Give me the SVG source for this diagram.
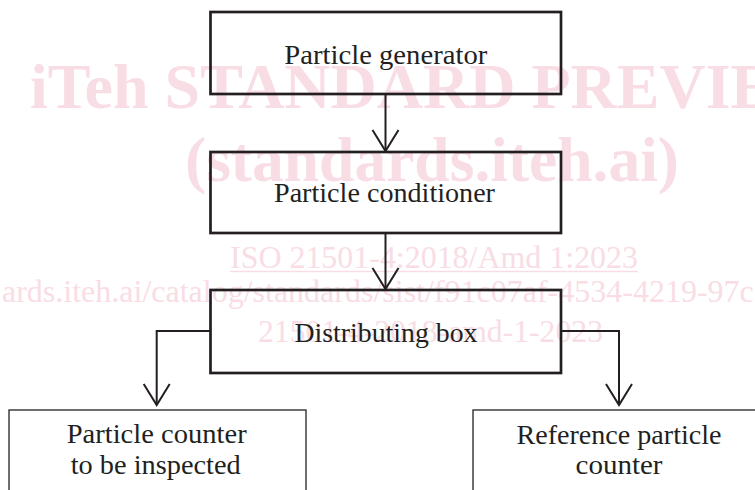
<svg xmlns="http://www.w3.org/2000/svg" width="755" height="490" viewBox="0 0 755 490">
  <style>
    .wm { fill: #f9dde5; font-family: "Liberation Serif", serif; }
    .wmb { font-weight: bold; font-size: 64px; }
    .wmr { font-size: 32px; }
    .box { fill: none; stroke: #231f20; stroke-width: 2.7; }
    .box2 { fill: none; stroke: #231f20; stroke-width: 1.3; }
    .lbl { fill: #231f20; font-family: "Liberation Serif", serif; font-size: 27px; text-anchor: middle; }
    .conn { fill: none; stroke: #231f20; stroke-width: 2; }
  </style>
  <defs>
    <marker id="vhead" markerUnits="userSpaceOnUse" viewBox="0 0 24 28" refX="22" refY="14" markerWidth="24" markerHeight="28" orient="auto" overflow="visible">
      <path d="M1,1 L22,14 L1,27" fill="none" stroke="#231f20" stroke-width="2"/>
    </marker>
  </defs>
  <rect width="755" height="490" fill="#ffffff"/>
  <g id="watermark">
    <text class="wm wmb" x="30" y="108">iTeh STANDARD PREVIEW</text>
    <text class="wm wmb" x="185" y="181" textLength="494" lengthAdjust="spacingAndGlyphs">(standards.iteh.ai)</text>
    <text class="wm wmr" x="230" y="268" textLength="408" lengthAdjust="spacingAndGlyphs">ISO 21501-4:2018/Amd 1:2023</text>
    <line x1="230" y1="271.5" x2="638" y2="271.5" stroke="#f9dde5" stroke-width="1.6"/>
    <text class="wm wmr" x="2" y="302">ards.iteh.ai/catalog/standards/sist/f91c07af-4534-4219-97c</text>
    <text class="wm wmr" x="258" y="342" textLength="345" lengthAdjust="spacingAndGlyphs">21501-4-2018-amd-1-2023</text>
  </g>
  <g id="connectors">
    <line class="conn" x1="385.5" y1="94" x2="385.5" y2="151" marker-end="url(#vhead)"/>
    <line class="conn" x1="385.5" y1="233" x2="385.5" y2="289" marker-end="url(#vhead)"/>
    <polyline class="conn" points="210,331 156.7,331 156.7,405" marker-end="url(#vhead)"/>
    <polyline class="conn" points="561,331 619,331 619,405" marker-end="url(#vhead)"/>
  </g>
  <g id="particle-generator">
    <rect class="box" x="210.5" y="12" width="350.5" height="82"/>
    <text class="lbl" x="385.8" y="64" textLength="203" lengthAdjust="spacingAndGlyphs">Particle generator</text>
  </g>
  <g id="particle-conditioner">
    <rect class="box" x="210.5" y="152" width="350.5" height="81"/>
    <text class="lbl" x="384.5" y="202" textLength="221" lengthAdjust="spacingAndGlyphs">Particle conditioner</text>
  </g>
  <g id="distributing-box">
    <rect class="box" x="210.5" y="290" width="350.5" height="83"/>
    <text class="lbl" x="386" y="342" textLength="183" lengthAdjust="spacingAndGlyphs">Distributing box</text>
  </g>
  <g id="particle-counter-inspected">
    <rect class="box2" x="9" y="410" width="297" height="90"/>
    <text class="lbl" x="156.7" y="443" textLength="180" lengthAdjust="spacingAndGlyphs">Particle counter</text>
    <text class="lbl" x="155.7" y="474" textLength="170" lengthAdjust="spacingAndGlyphs">to be inspected</text>
  </g>
  <g id="reference-particle-counter">
    <rect class="box2" x="473" y="410" width="292" height="90"/>
    <text class="lbl" x="619" y="444" textLength="205" lengthAdjust="spacingAndGlyphs">Reference particle</text>
    <text class="lbl" x="619" y="474" textLength="87" lengthAdjust="spacingAndGlyphs">counter</text>
  </g>
</svg>
